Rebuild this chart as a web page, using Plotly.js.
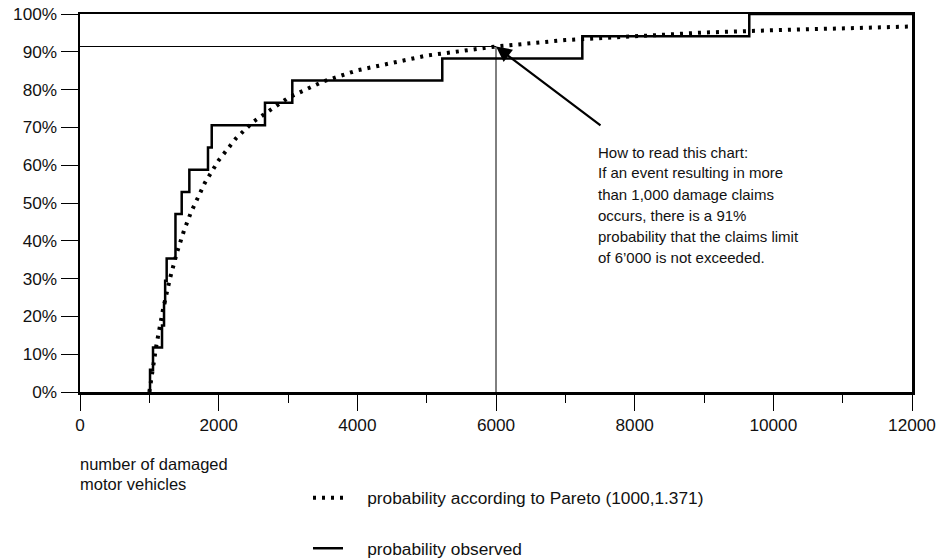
<!DOCTYPE html>
<html>
<head>
<meta charset="utf-8">
<script src="https://cdn.plot.ly/plotly-3.0.1.min.js"></script>
<style>html,body{margin:0;padding:0;background:#fff;}#chart{width:948px;height:560px;}</style>
</head>
<body>
<div id="chart"></div>
<script>
// Pareto (1000, 1.371) curve
const paretoClaims = [1000, 1100, 1200, 1300, 1400, 1500, 1600, 1800, 2000, 2250, 2500, 3000, 3500, 4000, 5000, 6000, 7000, 8000, 9000, 10000, 11000, 12000];
const paretoProb   = [0.0, 0.122, 0.221, 0.302, 0.370, 0.427, 0.475, 0.553, 0.613, 0.671, 0.715, 0.778, 0.821, 0.851, 0.890, 0.914, 0.931, 0.942, 0.951, 0.957, 0.963, 0.967];

// Observed cumulative probability (step function)
const obsClaims = [1010, 1010, 1053, 1183, 1212, 1228, 1250, 1377, 1377, 1467, 1577, 1846, 1900, 2668, 3062, 5225, 7245, 9653, 12000];
const obsProb   = [0.0, 0.059, 0.118, 0.176, 0.235, 0.294, 0.353, 0.412, 0.471, 0.529, 0.588, 0.647, 0.706, 0.765, 0.824, 0.882, 0.941, 1.0, 1.0];

// Reading example
const limitClaims = 6000;
const limitProb = 0.914;

const xTickVals = [0, 2000, 4000, 6000, 8000, 10000, 12000];
const yTickVals = [0, 0.1, 0.2, 0.3, 0.4, 0.5, 0.6, 0.7, 0.8, 0.9, 1.0];
const yTickText = ['0%', '10%', '20%', '30%', '40%', '50%', '60%', '70%', '80%', '90%', '100%'];

const noteLines = [
  'How to read this chart:',
  'If an event resulting in more',
  'than 1,000 damage claims',
  'occurs, there is a 91%',
  'probability that the claims limit',
  'of 6\u2019000 is not exceeded.'
];
const xTitleLines = ['number of damaged', 'motor vehicles'];
const legendNames = ['probability according to Pareto (1000,1.371)', 'probability observed'];

const FONT = '"Liberation Sans", Arial, Helvetica, sans-serif';
const pad = '\u00a0\u00a0\u00a0\u00a0';

const traces = [
  {
    x: paretoClaims, y: paretoProb, type: 'scatter', mode: 'lines',
    name: pad + legendNames[0], legendgroup: 'a',
    line: {color: '#000', width: 4, dash: '3px,6px'},
    hoverinfo: 'skip'
  },
  {
    x: obsClaims, y: obsProb, type: 'scatter', mode: 'lines',
    name: pad + legendNames[1], legendgroup: 'b',
    line: {color: '#000', width: 2.5, shape: 'hv'},
    hoverinfo: 'skip'
  }
];

const annotations = [];
noteLines.forEach((t, i) => {
  annotations.push({
    xref: 'paper', yref: 'paper',
    x: (596 - 80) / 832, y: (392 - (152 + 21 * i)) / 378,
    xanchor: 'left', yanchor: 'middle', showarrow: false,
    text: t, font: {family: FONT, size: 15, color: '#111'}
  });
});
xTitleLines.forEach((t, i) => {
  annotations.push({
    xref: 'paper', yref: 'paper',
    x: -2 / 832, y: (392 - (464 + 20 * i)) / 378,
    xanchor: 'left', yanchor: 'middle', showarrow: false,
    text: t, font: {family: FONT, size: 16.5, color: '#111'}
  });
});
annotations.push({
  x: limitClaims, y: limitProb, xref: 'x', yref: 'y',
  ax: 106, ay: 80, showarrow: true,
  arrowhead: 2, arrowsize: 1.4, arrowwidth: 2.2, arrowcolor: '#000', text: ''
});

const layout = {
  width: 948, height: 560,
  margin: {l: 80, r: 36, t: 14, b: 168, autoexpand: false},
  paper_bgcolor: '#fff', plot_bgcolor: '#fff',
  font: {family: FONT, size: 17.2, color: '#111'},
  showlegend: true,
  legend: {
    x: (308 - 80) / 832, y: (392 - 480) / 378, xanchor: 'left', yanchor: 'top',
    traceorder: 'grouped', tracegroupgap: 25,
    font: {family: FONT, size: 17.3, color: '#111'},
    bgcolor: 'rgba(0,0,0,0)'
  },
  xaxis: {
    range: [0, 12000], tickmode: 'array', tickvals: xTickVals, ticktext: xTickVals.map(String),
    ticks: 'outside', ticklen: 16, tickwidth: 1, tickcolor: '#000',
    minor: {dtick: 1000, tick0: 0, ticks: 'outside', ticklen: 8, tickwidth: 1, tickcolor: '#000', showgrid: false},
    showline: true, linewidth: 2.5, linecolor: '#000', mirror: true,
    showgrid: false, zeroline: false, fixedrange: true,
    tickfont: {family: FONT, size: 17.2, color: '#111'}
  },
  yaxis: {
    range: [0, 1], tickmode: 'array', tickvals: yTickVals, ticktext: yTickText,
    ticks: 'outside', ticklen: 17, tickwidth: 1, tickcolor: '#000',
    showline: true, linewidth: 2.5, linecolor: '#000', mirror: true,
    showgrid: false, zeroline: false, fixedrange: true,
    tickfont: {family: FONT, size: 17.2, color: '#111'}
  },
  shapes: [
    {type: 'line', xref: 'x', yref: 'y', x0: 0, x1: limitClaims, y0: limitProb, y1: limitProb, line: {color: '#000', width: 1}},
    {type: 'line', xref: 'x', yref: 'y', x0: limitClaims, x1: limitClaims, y0: 0, y1: limitProb, line: {color: '#000', width: 1}}
  ],
  annotations: annotations
};

Plotly.newPlot('chart', traces, layout, {staticPlot: true, displayModeBar: false});
</script>
</body>
</html>
